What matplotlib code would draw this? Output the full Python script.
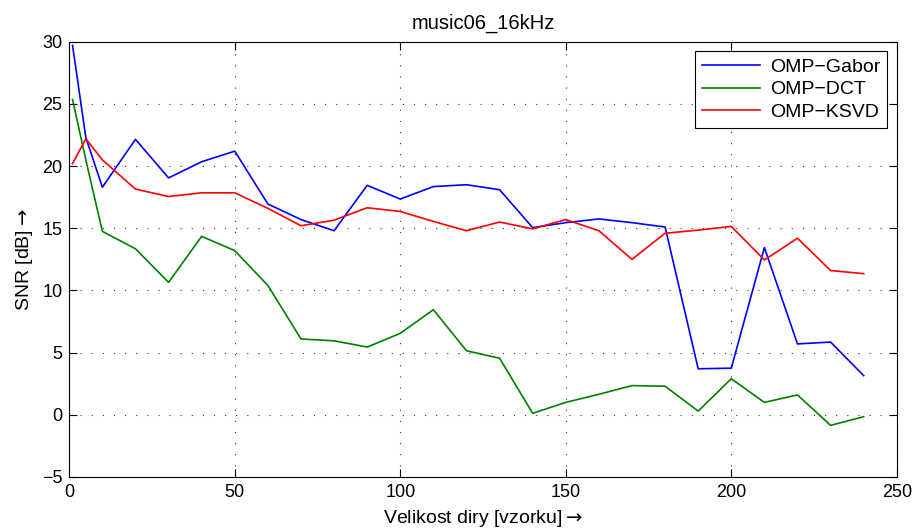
import numpy as np
import matplotlib
matplotlib.use("Agg")
import matplotlib.pyplot as plt

plt.rcParams['font.family'] = ['Liberation Sans', 'DejaVu Sans']
plt.rcParams['mathtext.fontset'] = 'dejavusans'

# velikost diry (x) a SNR pro jednotlive slovniky
x = [1, 5, 10, 20, 30, 40, 50, 60, 70, 80, 90, 100, 110, 120, 130, 140,
     150, 160, 170, 180, 190, 200, 210, 220, 230, 240]
snr_gabor = [29.7, 22.3, 18.3, 22.15, 19.05, 20.35, 21.2, 16.95, 15.7, 14.8,
             18.45, 17.35, 18.35, 18.5, 18.1, 15.05, 15.45, 15.75, 15.45, 15.1,
             3.7, 3.75, 13.45, 5.7, 5.85, 3.15]
snr_dct = [25.35, 20.5, 14.75, 13.35, 10.65, 14.35, 13.2, 10.4, 6.1, 5.95,
           5.45, 6.55, 8.45, 5.15, 4.55, 0.12, 1.0, 1.65, 2.35, 2.3,
           0.3, 2.9, 1.0, 1.6, -0.85, -0.15]
snr_ksvd = [20.2, 22.2, 20.5, 18.15, 17.55, 17.85, 17.85, 16.6, 15.2, 15.65,
            16.65, 16.35, 15.55, 14.8, 15.5, 14.95, 15.7, 14.8, 12.5, 14.6,
            14.85, 15.15, 12.45, 14.2, 11.6, 11.35]

fig = plt.figure(figsize=(9.15, 5.28), dpi=100)
ax = fig.add_axes([0.0757, 0.0966, 0.9044, 0.8244])

ax.plot(x, snr_gabor, color='#0000ff', lw=1.2, label='OMP\u2212Gabor')
ax.plot(x, snr_dct, color='#008000', lw=1.2, label='OMP\u2212DCT')
ax.plot(x, snr_ksvd, color='#ff0000', lw=1.2, label='OMP\u2212KSVD')

ax.set_xlim(0, 250)
ax.set_ylim(-5, 30)
ax.set_xticks(np.arange(0, 251, 50))
ax.set_yticks(np.arange(-5, 31, 5))
ax.grid(True, color='#333333', linestyle=(0, (1, 9)), linewidth=0.8)
ax.tick_params(direction='in', top=True, right=True, labelsize=13,
               length=6, pad=5)
for s in ax.spines.values():
    s.set_linewidth(0.8)

ax.set_title('music06_16kHz', fontsize=14.5, pad=9)
ax.set_xlabel(r'Velikost diry [vzorku]$\rightarrow$', fontsize=14, labelpad=5)
ax.set_ylabel(r'SNR [dB]$\rightarrow$', fontsize=14, labelpad=5)

leg = ax.legend(loc='upper right', fontsize=14, fancybox=False, framealpha=1,
                edgecolor='black', handlelength=3.0, handletextpad=0.5,
                borderpad=0.35, labelspacing=0.25, borderaxespad=0.5)
leg.get_frame().set_linewidth(0.8)

fig.savefig('out.png', dpi=100)
